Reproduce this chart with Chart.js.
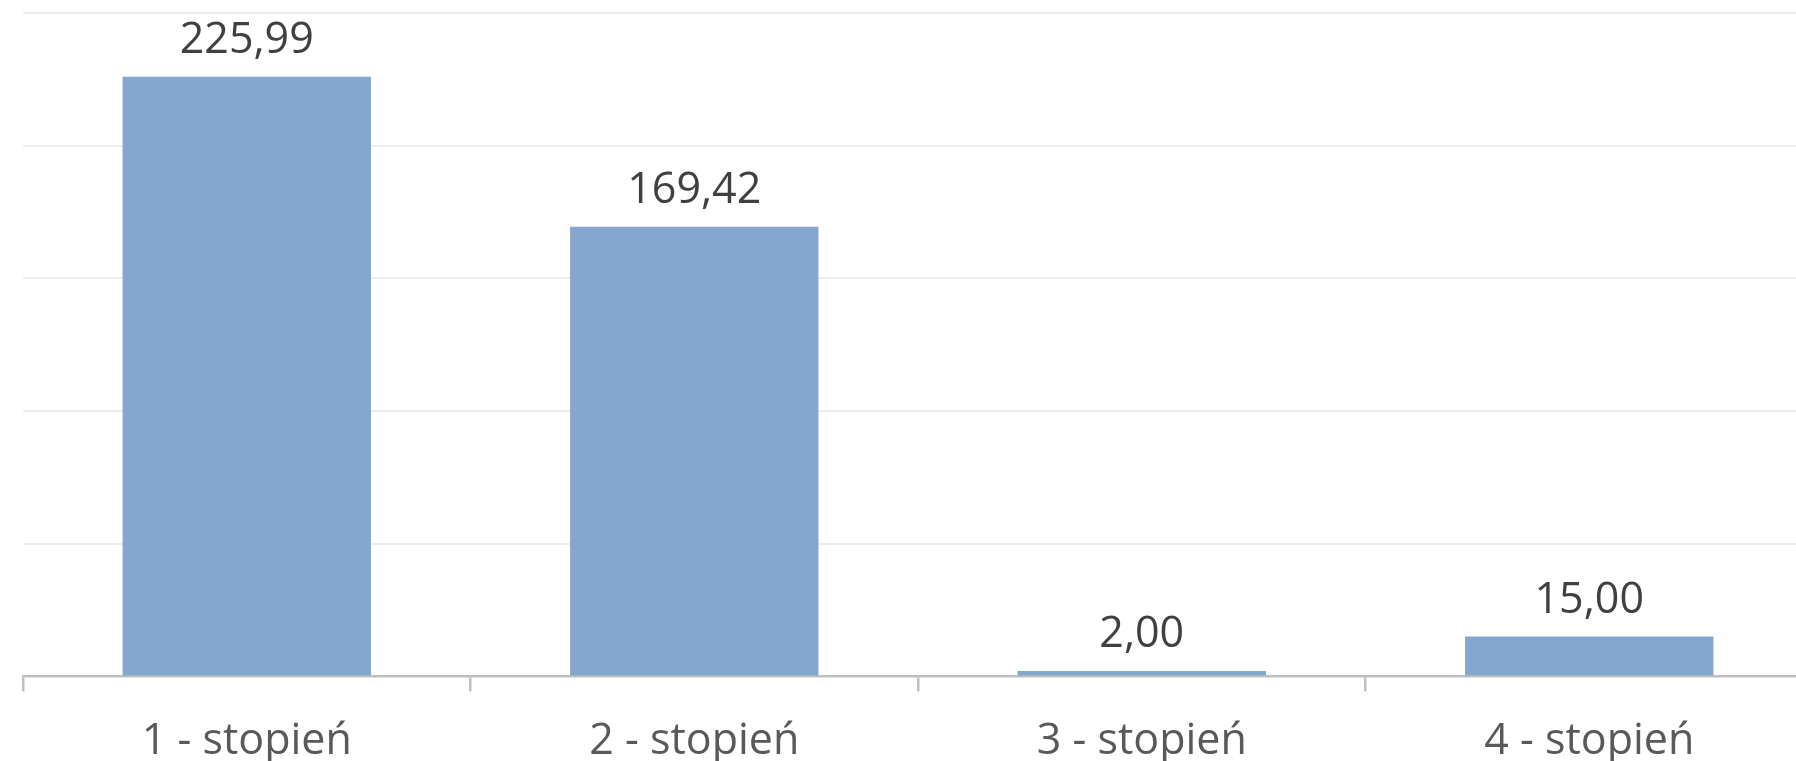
<!DOCTYPE html>
<html>
<head>
<meta charset="utf-8">
<script src="https://cdn.jsdelivr.net/npm/chart.js@4/dist/chart.umd.min.js"></script>
<style>
  html, body { margin: 0; padding: 0; background: #fff; overflow: hidden; }
  #wrap { width: 1813px; height: 793px; }
</style>
</head>
<body>
<div id="wrap"><canvas id="chart" width="1813" height="793"></canvas></div>
<script>
// data
const categories = ['1 - stopień', '2 - stopień', '3 - stopień', '4 - stopień'];
const values = [225.99, 169.42, 2.00, 15.00];
const yMin = 0;
const yMax = 250;
const yStep = 50;

const barColor = '#84A7CF';

// value labels above the bars, written with a decimal comma
const barLabels = {
    id: 'barLabels',
    afterDatasetsDraw(chart) {
        const ctx = chart.ctx;
        const meta = chart.getDatasetMeta(0);
        ctx.save();
        ctx.font = '43px "Open Sans"';
        ctx.fillStyle = '#404040';
        ctx.textAlign = 'center';
        ctx.textBaseline = 'alphabetic';
        meta.data.forEach((bar, i) => {
            ctx.fillText(values[i].toFixed(2).replace('.', ','), bar.x, bar.y - 24);
        });
        ctx.restore();
    }
};

const chart = document.querySelector('#chart').getContext('2d');

new Chart(chart, {
    type: 'bar',
    data: {
        labels: categories,
        datasets: [
            {
                data: values,
                backgroundColor: barColor,
                borderWidth: 0,
                categoryPercentage: 1,
                barPercentage: 0.555
            }
        ]
    },
    options: {
        responsive: false,
        animation: false,
        layout: {
            padding: { top: 13, left: 23, right: 0, bottom: 0 }
        },
        plugins: {
            legend: { display: false },
            tooltip: { enabled: false }
        },
        scales: {
            x: {
                offset: true,
                grid: {
                    offset: true,
                    drawOnChartArea: false,
                    drawTicks: true,
                    tickLength: 15,
                    color: '#BFBFBF',
                    lineWidth: 2.5
                },
                border: { display: true, color: '#BFBFBF', width: 2.5 },
                ticks: {
                    padding: 25,
                    color: '#595959',
                    font: { family: '"Open Sans"', size: 43 },
                    maxRotation: 0,
                    autoSkip: false
                }
            },
            y: {
                min: yMin,
                max: yMax,
                ticks: { display: false, stepSize: yStep },
                grid: { color: '#EDEDED', lineWidth: 2, drawTicks: false },
                border: { display: false }
            }
        }
    },
    plugins: [barLabels]
});
</script>
</body>
</html>
